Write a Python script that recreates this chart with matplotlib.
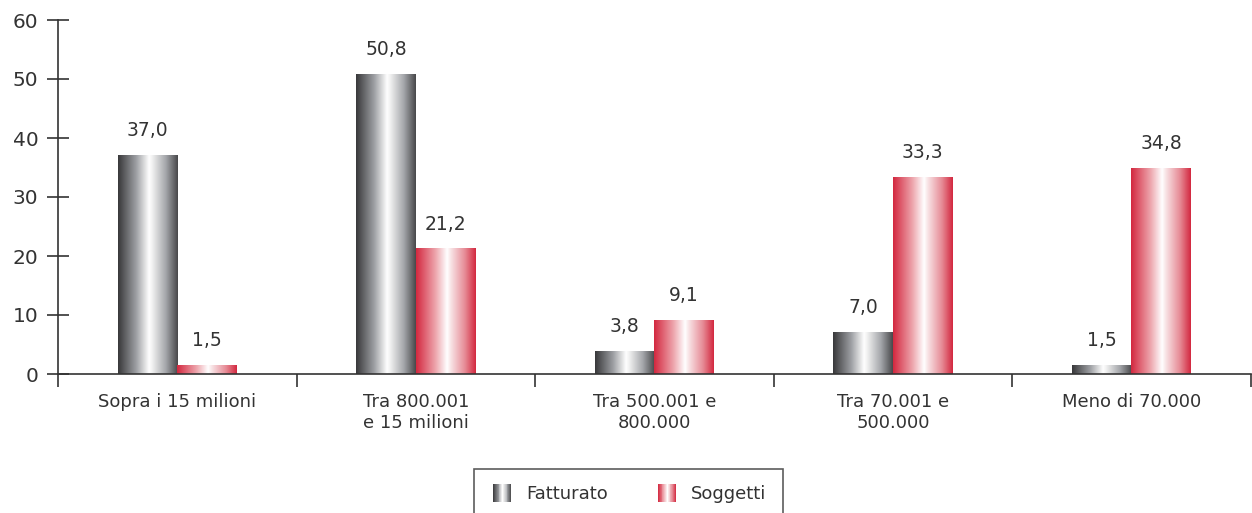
import matplotlib
matplotlib.use("Agg")
import matplotlib.pyplot as plt
import numpy as np
from matplotlib.colors import LinearSegmentedColormap
from matplotlib.patches import Rectangle
from matplotlib.legend_handler import HandlerBase

categorie = ["Sopra i 15 milioni", "Tra 800.001\ne 15 milioni", "Tra 500.001 e\n800.000",
             "Tra 70.001 e\n500.000", "Meno di 70.000"]
fatturato = [37.0, 50.8, 3.8, 7.0, 1.5]
soggetti = [1.5, 21.2, 9.1, 33.3, 34.8]
serie = ["Fatturato", "Soggetti"]

GRIGIO = LinearSegmentedColormap.from_list("grigio", [
    (0.0, "#38383a"), (0.3, "#9c9ea2"), (0.52, "#ffffff"), (0.58, "#eeeeee"),
    (0.8, "#a4a6aa"), (1.0, "#48484a")])
ROSSO = LinearSegmentedColormap.from_list("rosso", [
    (0.0, "#d3283f"), (0.32, "#eda3ab"), (0.52, "#ffffff"), (0.58, "#f8e4e6"),
    (0.82, "#e68a95"), (1.0, "#d3283f")])
TESTO = "#333333"

grad = np.linspace(0, 1, 256).reshape(1, -1)


def sfuma(ax, bars, cmap):
    for b in bars:
        x, y = b.get_x(), b.get_y()
        w, h = b.get_width(), b.get_height()
        ax.imshow(grad, cmap=cmap, extent=(x, x + w, y, y + h),
                  aspect="auto", zorder=2, interpolation="bilinear")
        b.set_visible(False)


class HandlerSfumato(HandlerBase):
    def __init__(self, cmap):
        super().__init__()
        self.cmap = cmap

    def create_artists(self, legend, orig, xd, yd, w, h, fs, trans):
        n = 20
        lato = h * 1.4
        x0 = xd + (w - lato) / 2
        y0 = yd + (h - lato) / 2
        out = []
        for i in range(n):
            r = Rectangle((x0 + i * lato / n, y0), lato / n + 0.3, lato,
                          facecolor=self.cmap((i + 0.5) / n), edgecolor="none",
                          transform=trans)
            out.append(r)
        return out


plt.rcParams.update({"font.family": "DejaVu Sans", "font.size": 13})
fig = plt.figure(figsize=(12.52, 5.13), dpi=100)
ax = fig.add_axes([58 / 1252, 139 / 513, 1 - 58 / 1252 - 0.001, (374 - 20) / 513])

x = np.arange(len(categorie))
w = 0.25
b1 = ax.bar(x - w / 2, fatturato, w)
b2 = ax.bar(x + w / 2, soggetti, w)
sfuma(ax, b1, GRIGIO)
sfuma(ax, b2, ROSSO)

for bars, vals in ((b1, fatturato), (b2, soggetti)):
    for b, v in zip(bars, vals):
        ax.annotate(f"{v:.1f}".replace(".", ","), (b.get_x() + b.get_width() / 2, v),
                    textcoords="offset points", xytext=(0, 11), ha="center",
                    va="bottom", fontsize=13.5, color=TESTO)

ax.set_xlim(-0.5, len(categorie) - 0.5)
ax.set_ylim(0, 60)
ax.set_yticks(range(0, 61, 10))
ax.set_xticks(np.arange(-0.5, len(categorie)), minor=False)
ax.set_xticklabels([])
ax.set_xticks(x, minor=True)
ax.set_xticklabels(categorie, minor=True, color=TESTO, fontsize=13)
ax.tick_params(axis="x", which="major", direction="out", length=9, width=1.2, color=TESTO)
ax.tick_params(axis="x", which="minor", length=0, pad=14)
ax.tick_params(axis="y", direction="inout", length=16, width=1.2, color=TESTO,
               labelcolor=TESTO, labelsize=14.5, pad=6)
for s in ("top", "right"):
    ax.spines[s].set_visible(False)
for s in ("left", "bottom"):
    ax.spines[s].set_color(TESTO)
    ax.spines[s].set_linewidth(1.2)

h1 = Rectangle((0, 0), 1, 1)
h2 = Rectangle((0, 0), 1, 1)
leg = fig.legend([h1, h2], serie, loc="upper center", bbox_to_anchor=(628.5 / 1252, 1 - 469 / 513),
                 ncol=2, frameon=True, fancybox=False, fontsize=13, handlelength=1.3,
                 handletextpad=0.7, columnspacing=2.6, borderpad=0.9, borderaxespad=0,
                 handler_map={h1: HandlerSfumato(GRIGIO), h2: HandlerSfumato(ROSSO)})
leg.get_frame().set_edgecolor(TESTO)
leg.get_frame().set_linewidth(1.2)
for t in leg.get_texts():
    t.set_color(TESTO)

fig.savefig("out.png", dpi=100, facecolor="white")
